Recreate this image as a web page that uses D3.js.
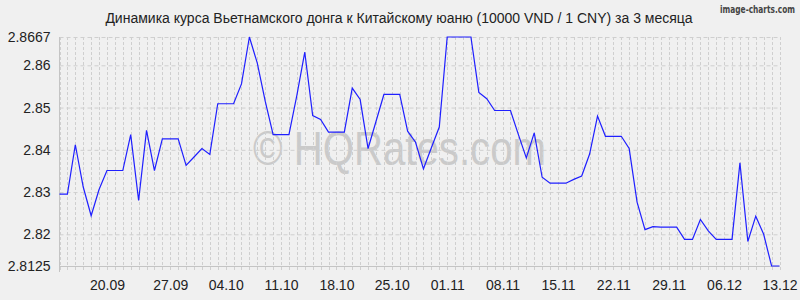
<!DOCTYPE html>
<html>
<head>
<meta charset="utf-8">
<script src="https://cdn.jsdelivr.net/npm/d3@7"></script>
<style>
  html, body { margin: 0; padding: 0; background: #f0f0f0; }
  svg { display: block; font-family: "Liberation Sans", Arial, sans-serif; }
</style>
</head>
<body>
<svg id="chart" width="800" height="300"></svg>
<script>
const title = "Динамика курса Вьетнамского донга к Китайскому юаню (10000 VND / 1 CNY) за 3 месяца";
const values = [
  2.8295, 2.8295, 2.8412, 2.8312, 2.8244, 2.8306, 2.8351, 2.8351, 2.8351, 2.8436,
  2.8280, 2.8446, 2.8351, 2.8426, 2.8426, 2.8426, 2.8363, 2.8383, 2.8403, 2.8389,
  2.8509, 2.8509, 2.8509, 2.8556, 2.8667, 2.8605, 2.8515, 2.8436, 2.8436, 2.8436,
  2.8529, 2.8631, 2.8481, 2.8472, 2.8442, 2.8442, 2.8442, 2.8546, 2.8519, 2.8403,
  2.8467, 2.8531, 2.8531, 2.8531, 2.8444, 2.8418, 2.8355, 2.8405, 2.8454, 2.8667,
  2.8667, 2.8667, 2.8667, 2.8536, 2.8521, 2.8493, 2.8493, 2.8493, 2.8436, 2.8381,
  2.8440, 2.8335, 2.8321, 2.8321, 2.8321, 2.8330, 2.8338, 2.8390, 2.8480, 2.8432,
  2.8432, 2.8432, 2.8403, 2.8276, 2.8211, 2.8218, 2.8217, 2.8217, 2.8217, 2.8188,
  2.8188, 2.8235, 2.8208, 2.8188, 2.8188, 2.8188, 2.8369, 2.8183, 2.8243, 2.8200,
  2.8125, 2.8125
];
const xTickLabels = ["20.09","27.09","04.10","11.10","18.10","25.10","01.11","08.11","15.11","22.11","29.11","06.12","13.12"];
const xTickIndex  = [6, 14, 21, 28, 35, 42, 49, 56, 63, 70, 77, 84, 91];
const yTickValues = [2.8125, 2.82, 2.83, 2.84, 2.85, 2.86, 2.8667];
const yTickLabels = ["2.8125", "2.82", "2.83", "2.84", "2.85", "2.86", "2.8667"];

(function () {
const svg = d3.select("#chart");
const pLeft = 59.5, pRight = 779.5, pTop = 37, pBottom = 266;

const x = d3.scaleLinear().domain([0, values.length - 1]).range([pLeft, pRight]);
const y = d3.scaleLinear().domain([yTickValues[0], yTickValues[yTickValues.length - 1]]).range([pBottom, pTop]);

// watermark
svg.append("text")
  .attr("x", 253).attr("y", 165)
  .attr("font-size", 48)
  .attr("fill", "#cacaca")
  .attr("textLength", 293)
  .attr("lengthAdjust", "spacingAndGlyphs")
  .text("© HQRates.com");

// vertical grid lines (one per data point)
svg.append("g").selectAll("line")
  .data(d3.range(values.length))
  .join("line")
  .attr("x1", d => Math.round(x(d)) + 0.5).attr("x2", d => Math.round(x(d)) + 0.5)
  .attr("y1", pTop).attr("y2", pBottom + 6)
  .attr("stroke", "#cfcfcf")
  .attr("stroke-dasharray", "3,2");

// y axis with horizontal grid
const yAxis = d3.axisLeft(y)
  .tickValues(yTickValues)
  .tickFormat((d, i) => yTickLabels[i])
  .tickSize(-(pRight - pLeft))
  .tickPadding(9);
const gy = svg.append("g").attr("transform", `translate(${pLeft},0)`).call(yAxis);
gy.select(".domain").remove();
gy.selectAll(".tick line").attr("stroke", "#cfcfcf").attr("stroke-dasharray", "4,3");
gy.selectAll(".tick text").attr("font-size", 14).attr("fill", "#222")
  .attr("font-family", "'Liberation Sans', Arial, sans-serif");

// left axis line and bottom axis line
svg.append("line").attr("x1", pLeft).attr("x2", pLeft).attr("y1", pTop).attr("y2", pBottom + 6)
  .attr("stroke", "#c4c4c4");
svg.append("line").attr("x1", pLeft).attr("x2", pRight).attr("y1", pBottom + 0.5).attr("y2", pBottom + 0.5)
  .attr("stroke", "#c4c4c4");

// x axis labels
const xAxis = d3.axisBottom(x)
  .tickValues(xTickIndex)
  .tickFormat((d, i) => xTickLabels[i])
  .tickSize(0)
  .tickPadding(14);
const gx = svg.append("g").attr("transform", `translate(0,${pBottom})`).call(xAxis);
gx.select(".domain").remove();
gx.selectAll(".tick text").attr("font-size", 14).attr("fill", "#222")
  .attr("font-family", "'Liberation Sans', Arial, sans-serif");

// line
const line = d3.line().x((d, i) => x(i)).y(d => y(d));
svg.append("path")
  .datum(values)
  .attr("fill", "none")
  .attr("stroke", "#1f1fff")
  .attr("stroke-width", 1.2)
  .attr("stroke-linejoin", "miter")
  .attr("d", line);

// title
svg.append("text")
  .attr("x", 399).attr("y", 23)
  .attr("text-anchor", "middle")
  .attr("font-size", 14)
  .attr("fill", "#222")
  .text(title);

// credit (condensed via horizontal scale)
const credit = svg.append("text")
  .attr("x", 0).attr("y", 0)
  .attr("text-anchor", "end")
  .attr("font-size", 10)
  .attr("font-family", "'DejaVu Sans Condensed', 'DejaVu Sans', sans-serif")
  .attr("font-weight", "bold")
  .attr("fill", "#444")
  .text("image-charts.com");
const natural = credit.node().getComputedTextLength() || 90;
const sx = Math.min(1, 75 / natural);
credit.attr("transform", `translate(795,13) scale(${sx},1)`);
})();
</script>
</body>
</html>
